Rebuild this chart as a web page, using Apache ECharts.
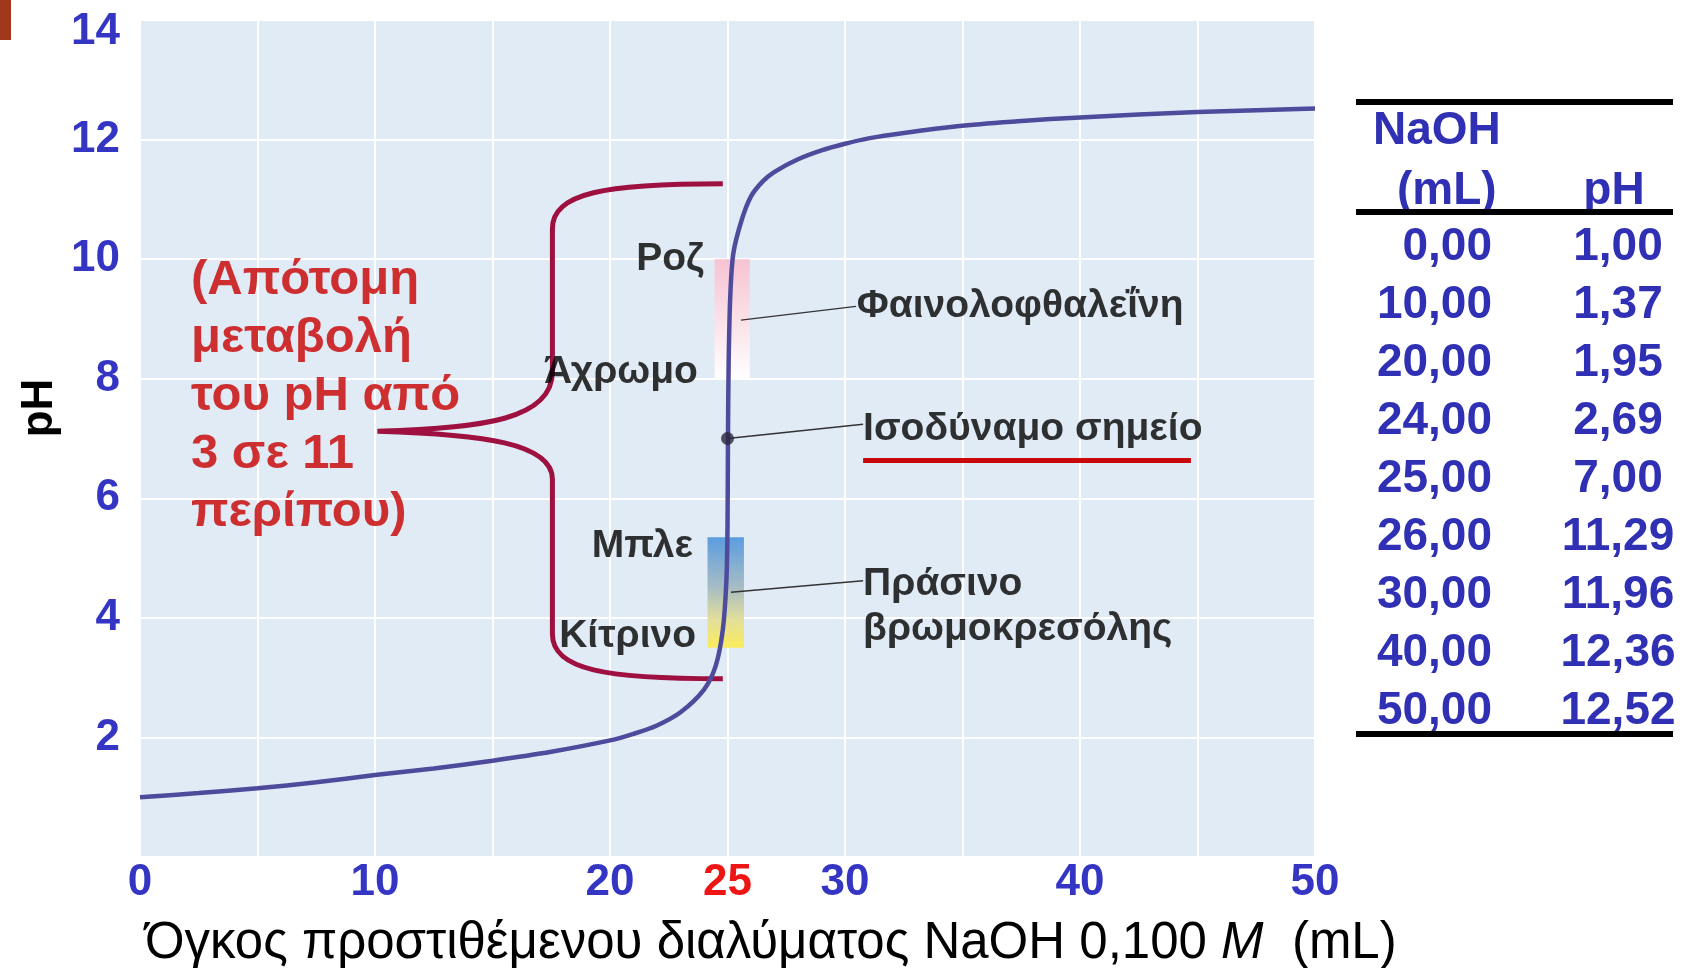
<!DOCTYPE html>
<html>
<head>
<meta charset="utf-8">
<script src="https://cdn.jsdelivr.net/npm/echarts@6/dist/echarts.min.js"></script>
<style>
  html, body { margin: 0; padding: 0; background: #fff; }
  #chart { width: 1685px; height: 968px; }
</style>
</head>
<body>
<div id="chart"></div>
<script>
// titration curve (mL NaOH, pH)
const curveVolume = [0, 2.5, 5, 7.5, 10, 12.5, 15, 17.5, 20, 21, 22, 23, 24, 24.5, 24.8, 24.95, 25.0, 25.02, 25.05, 25.12, 25.25, 25.6, 26, 26.5, 27, 28, 29, 30, 31, 32.5, 35, 37.5, 40, 45, 50];
const curvePH = [1.0, 1.07, 1.15, 1.25, 1.37, 1.48, 1.61, 1.76, 1.95, 2.06, 2.2, 2.42, 2.8, 3.2, 3.8, 4.6, 5.5, 7.0, 8.3, 9.4, 10.1, 10.65, 11.05, 11.3, 11.46, 11.67, 11.82, 11.93, 12.02, 12.11, 12.23, 12.31, 12.37, 12.46, 12.52];

// table on the right
const tableVolume = [0, 10, 20, 24, 25, 26, 30, 40, 50];
const tablePH = [1.00, 1.37, 1.95, 2.69, 7.00, 11.29, 11.96, 12.36, 12.52];

// x tick labels that are shown (grid every 5)
const xLabelValues = [0, 10, 20, 25, 30, 40, 50];
const equivalenceVolume = 25;
const equivalencePH = 7.0;

// indicator colour ranges [x0, x1, pH low, pH high]
const phenolRange = [24.45, 25.95, 8.0, 10.0];
const bromoRange = [24.15, 25.7, 3.5, 5.35];

// brace: arm end x, spine x, tip x / top pH, tip pH, bottom pH
const braceX = [24.8, 17.55, 10.1];
const bracePH = [11.26, 7.12, 2.98];

// leader lines
const leaderLines = [
  [[25.57, 8.98], [30.47, 9.21]],
  [[25.0, 7.0], [30.77, 7.24]],
  [[25.15, 4.43], [30.77, 4.62]]
];
const underline = [[30.77, 6.64], [44.72, 6.64]];

// text annotations
const colourLabels = [
  { text: 'Ροζ', pos: [24.0, 10.0] },
  { text: 'Άχρωμο', pos: [23.74, 8.11] },
  { text: 'Μπλε', pos: [23.53, 5.2] },
  { text: 'Κίτρινο', pos: [23.66, 3.7] }
];
const indicatorLabels = [
  { text: 'Φαινολοφθαλεΐνη', pos: [30.5, 9.21] },
  { text: 'Ισοδύναμο σημείο', pos: [30.77, 7.16] },
  { text: 'Πράσινο', pos: [30.77, 4.57] },
  { text: 'βρωμοκρεσόλης', pos: [30.77, 3.81] }
];
const noteText = '(Απότομη\nμεταβολή\nτου pH από\n3 σε 11\nπερίπου)';
const notePos = [2.17, 10.12];

const FONT = "'Liberation Sans', Arial, sans-serif";
const BLUE = '#3535c4';

const chart = echarts.init(document.getElementById('chart'));

const fmt = v => v.toFixed(2).replace('.', ',');

// table graphics
const tableGraphic = [];
[102, 212, 734].forEach(y => {
  tableGraphic.push({ type: 'rect', shape: { x: 1356, y: y - 3, width: 317, height: 6 }, style: { fill: '#000' }, z: 10 });
});
const tFont = { fontSize: 46, fontWeight: 'bold', fontFamily: FONT, fill: '#3030b4', verticalAlign: 'middle' };
tableGraphic.push({ type: 'text', x: 1373, y: 131, style: Object.assign({ text: 'NaOH', align: 'left' }, tFont) });
tableGraphic.push({ type: 'text', x: 1397, y: 191, style: Object.assign({ text: '(mL)', align: 'left' }, tFont) });
tableGraphic.push({ type: 'text', x: 1614, y: 191, style: Object.assign({ text: 'pH', align: 'center' }, tFont) });
tableVolume.forEach((v, i) => {
  const y = 247 + i * 58.1;
  tableGraphic.push({ type: 'text', x: 1492, y: y, style: Object.assign({ text: fmt(v), align: 'right' }, tFont) });
  tableGraphic.push({ type: 'text', x: 1618, y: y, style: Object.assign({ text: fmt(tablePH[i]), align: 'center' }, tFont) });
});

const option = {
  animation: false,
  backgroundColor: '#fff',
  grid: {
    left: 140, right: 370, top: 20, bottom: 111,
    show: true, backgroundColor: '#e1ebf6', borderWidth: 0
  },
  xAxis: {
    type: 'value', min: 0, max: 50, interval: 5,
    axisLine: { show: false }, axisTick: { show: false },
    splitLine: { show: true, lineStyle: { color: '#ffffff', width: 2 } },
    axisLabel: {
      margin: 4, fontSize: 44, fontWeight: 'bold', fontFamily: FONT, color: BLUE,
      showMinLabel: true, showMaxLabel: true,
      formatter: v => xLabelValues.includes(v) ? (v === equivalenceVolume ? '{r|' + v + '}' : String(v)) : '',
      rich: { r: { color: '#ee1515', fontSize: 44, fontWeight: 'bold', fontFamily: FONT } }
    }
  },
  yAxis: {
    type: 'value', min: 0, max: 14, interval: 2,
    axisLine: { show: false }, axisTick: { show: false },
    splitLine: { show: true, lineStyle: { color: '#ffffff', width: 2 } },
    axisLabel: {
      margin: 20, fontSize: 44, fontWeight: 'bold', fontFamily: FONT, color: BLUE, showMinLabel: false,
      formatter: v => v === 14 ? '{t|14}' : String(v),
      rich: { t: { padding: [24, 0, 0, 0], color: BLUE, fontSize: 44, fontWeight: 'bold', fontFamily: FONT } }
    }
  },
  graphic: [
    { type: 'rect', shape: { x: 0, y: 0, width: 11, height: 40 }, style: { fill: '#a0381c' } },
    {
      type: 'text', x: 40, y: 408, rotation: Math.PI / 2,
      style: { text: 'pH', fontSize: 44, fontWeight: 'bold', fontFamily: FONT, fill: '#000', align: 'center', verticalAlign: 'middle' }
    },
    {
      type: 'text', x: 145, y: 944,
      style: {
        text: 'Όγκος προστιθέμενου διαλύματος NaOH 0,100 {i|M}  (mL)',
        fontSize: 51, fontFamily: FONT, fill: '#000', verticalAlign: 'middle',
        rich: { i: { fontSize: 51, fontFamily: FONT, fontStyle: 'italic', fill: '#000' } }
      }
    }
  ].concat(tableGraphic),
  series: [
    {
      // indicator colour bars
      type: 'custom', z: 1, silent: true,
      data: [phenolRange, bromoRange],
      renderItem: (params, api) => {
        const p0 = api.coord([api.value(0), api.value(3)]);
        const p1 = api.coord([api.value(1), api.value(2)]);
        const fill = params.dataIndex === 0
          ? new echarts.graphic.LinearGradient(0, 0, 0, 1, [
              { offset: 0, color: '#f6c3d3' }, { offset: 0.55, color: '#fbe3ea' }, { offset: 1, color: '#ffffff' }])
          : new echarts.graphic.LinearGradient(0, 0, 0, 1, [
              { offset: 0, color: '#5b9de0' }, { offset: 0.45, color: '#a6bcc4' }, { offset: 0.75, color: '#e3df9a' }, { offset: 1, color: '#fbec5c' }]);
        return { type: 'rect', shape: { x: p0[0], y: p0[1], width: p1[0] - p0[0], height: p1[1] - p0[1] }, style: { fill: fill } };
      }
    },
    {
      // curly brace
      type: 'custom', z: 2, silent: true,
      data: [[0]],
      renderItem: (params, api) => {
        const [armX, spineX, tipX] = braceX;
        const [top, tip, bottom] = bracePH;
        const c = (x, y) => api.coord([x, y]).map(n => n.toFixed(1)).join(' ');
        const d = [
          'M', c(armX, top),
          'C', c(19.8, top), c(spineX, top - 0.15), c(spineX, top - 0.75),
          'L', c(spineX, tip + 1.0),
          'C', c(spineX, tip + 0.2), c(tipX + 4.5, tip + 0.05), c(tipX, tip),
          'C', c(tipX + 4.5, tip - 0.05), c(spineX, tip - 0.2), c(spineX, tip - 0.8),
          'L', c(spineX, bottom + 0.75),
          'C', c(spineX, bottom + 0.15), c(19.8, bottom), c(armX, bottom)
        ].join(' ');
        return { type: 'path', shape: { pathData: d }, style: { stroke: '#9e1040', lineWidth: 5, fill: 'none' } };
      }
    },
    {
      type: 'line', z: 3, silent: true,
      data: curveVolume.map((v, i) => [v, curvePH[i]]),
      smooth: 0.3, showSymbol: false,
      lineStyle: { color: '#4f4b9c', width: 4.5 }
    },
    {
      type: 'lines', coordinateSystem: 'cartesian2d', z: 4, silent: true,
      data: leaderLines.map(l => ({ coords: l })),
      lineStyle: { color: '#333', width: 1.5, opacity: 1 }
    },
    {
      type: 'lines', coordinateSystem: 'cartesian2d', z: 4, silent: true,
      data: [{ coords: underline }],
      lineStyle: { color: '#c80808', width: 5, opacity: 1 }
    },
    {
      type: 'scatter', z: 5, silent: true,
      data: [[equivalenceVolume, equivalencePH]],
      symbolSize: 13, itemStyle: { color: '#2a2540' }
    },
    {
      type: 'scatter', z: 6, silent: true, symbolSize: 0,
      data: colourLabels.map(l => ({ value: l.pos, name: l.text })).concat(
        indicatorLabels.map(l => ({ value: l.pos, name: l.text, label: { align: 'left' } }))),
      label: {
        show: true, position: [0, 0], align: 'right', verticalAlign: 'middle',
        formatter: p => p.name, color: '#000', fontSize: 39, fontWeight: 'bold', fontFamily: FONT
      }
    },
    {
      type: 'scatter', z: 6, silent: true, symbolSize: 0,
      data: [{ value: notePos, name: noteText }],
      label: {
        show: true, position: [0, 0], align: 'left', verticalAlign: 'top',
        formatter: p => p.name, color: '#c80000', fontSize: 49, fontWeight: 'bold', fontFamily: FONT, lineHeight: 58
      }
    }
  ]
};

chart.setOption(option);
</script>
</body>
</html>
